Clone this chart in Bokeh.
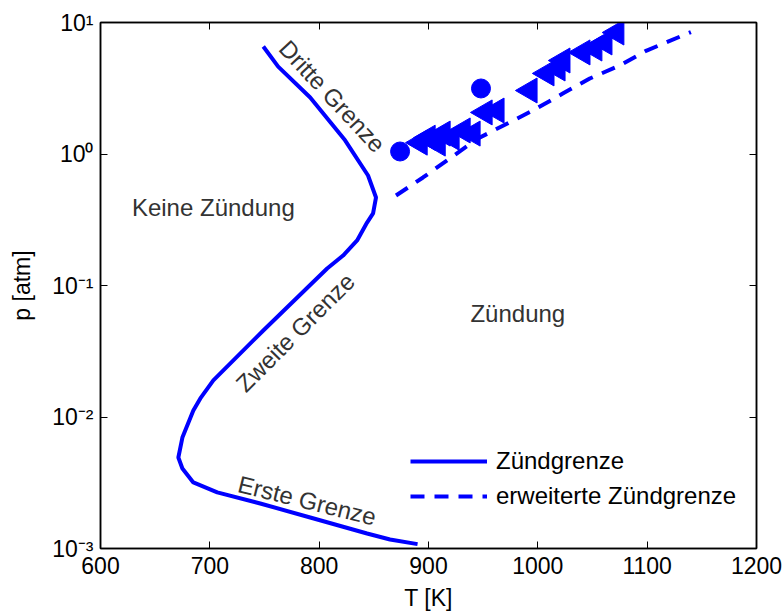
from bokeh.plotting import figure
from bokeh.models import FixedTicker, LinearAxis, LogAxis
from bokeh.core.properties import value
from bokeh.embed import file_html
from bokeh.resources import INLINE

# --- data ---
limit_T = [748.9, 762.5, 791.8, 823.7, 844.7, 852.0, 849.3, 843.8, 834.7, 821.9, 807.3,
           748.9, 703.2, 691.3, 684.9, 674.9, 671.2, 674.9, 684.9, 706.8, 746.1, 791.8,
           843.8, 864.8, 890.0]
limit_p = [6.57, 4.62, 2.69, 1.27, 0.686, 0.467, 0.353, 0.301, 0.220, 0.169, 0.1346,
           0.0455, 0.01897, 0.01384, 0.0112, 0.00698, 0.00492, 0.00406, 0.00318, 0.00267,
           0.0022, 0.00172, 0.0013, 0.00117, 0.00108]

ext_T = [870.3, 895.0, 945.2, 995.4, 1022.8, 1047.5, 1074.9, 1099.5, 1140.0]
ext_p = [0.4835, 0.663, 1.312, 2.14, 2.88, 3.75, 4.71, 6.12, 8.45]

circ_T = [874.0, 948.0]
circ_p = [1.045, 3.15]

tri_T = [892.2, 899.5, 908.7, 913.2, 921.4, 931.5, 940.6, 951.6, 962.5, 992.7,
         1008.2, 1018.3, 1022.8, 1041.1, 1052.0, 1061.2, 1072.1]
tri_p = [1.22, 1.33, 1.20, 1.43, 1.33, 1.51, 1.43, 2.07, 2.14, 3.04,
         4.10, 4.47, 5.14, 5.92, 6.34, 7.05, 8.39]

x_ticks = [600, 700, 800, 900, 1000, 1100, 1200]
y_ticks = [0.001, 0.01, 0.1, 1, 10]
y_tick_labels = ["10\u207b\u00b3", "10\u207b\u00b2", "10\u207b\u00b9", "10\u2070", "10\u00b9"]

region_labels = ["Keine Zündung", "Zündung"]
region_T = [703.2, 981.7]
region_p = [0.392, 0.0612]

limit_labels = ["Dritte Grenze", "Zweite Grenze", "Erste Grenze"]
limit_label_T = [812.0, 778.1, 789.0]
limit_label_p = [2.75, 0.0440, 0.00232]
limit_label_angle = [-0.82, 0.785, -0.243]

FONT = "Liberation Sans"
FS = "23px"
TFS = "24px"
BLUE = "#0000FF"

p = figure(width=783, height=616, x_range=(600, 1200), y_range=(1e-3, 1e1),
           y_axis_type="log", output_backend="svg", toolbar_location=None,
           min_border_left=100, min_border_right=27, min_border_top=22,
           min_border_bottom=68)
p.title.visible = False
p.grid.visible = False
p.outline_line_color = "black"
p.outline_line_width = 1.5
p.background_fill_color = "white"
p.border_fill_color = "white"

p.line(limit_T, limit_p, line_color=BLUE, line_width=4, legend_label="Zündgrenze")
p.line(ext_T, ext_p, line_color=BLUE, line_width=4, line_dash="14 10",
       legend_label="erweiterte Zündgrenze")
p.scatter(circ_T, circ_p, marker="circle", size=19, fill_color=BLUE, line_color=BLUE)
p.scatter(tri_T, tri_p, marker="triangle", size=25, angle=1.5708,
          fill_color=BLUE, line_color=BLUE)

p.text(region_T, region_p, text=region_labels, text_font=value(FONT),
       text_font_size=TFS, text_color="#333333", text_align="center",
       text_baseline="middle")
p.text(limit_label_T, limit_label_p, text=limit_labels, angle=limit_label_angle,
       text_font=value(FONT), text_font_size=TFS, text_color="#333333",
       text_align="center", text_baseline="middle")

for ax in p.xaxis + p.yaxis:
    ax.major_label_text_font = FONT
    ax.major_label_text_font_size = FS
    ax.major_label_text_color = "black"
    ax.axis_label_text_font = FONT
    ax.axis_label_text_font_size = FS
    ax.axis_label_text_font_style = "normal"
    ax.axis_label_text_color = "black"
    ax.major_tick_in = 7
    ax.major_tick_out = 0
    ax.minor_tick_line_color = None
    ax.axis_line_color = "black"
    ax.axis_line_width = 1.5
    ax.major_tick_line_color = "black"

p.xaxis.ticker = FixedTicker(ticks=x_ticks)
p.xaxis.axis_label = "T [K]"
p.xaxis.major_label_standoff = 8
p.xaxis.axis_label_standoff = 8

p.yaxis.ticker = FixedTicker(ticks=y_ticks)
p.yaxis.major_label_overrides = dict(zip(y_ticks, y_tick_labels))
p.yaxis.axis_label = "p [atm]"
p.yaxis.major_label_standoff = 7
p.yaxis.axis_label_standoff = 14

top = LinearAxis(ticker=FixedTicker(ticks=x_ticks), major_label_text_font_size="1px",
                 major_label_text_alpha=0, major_tick_in=7, major_tick_out=0,
                 minor_tick_line_color=None, axis_line_color="black",
                 axis_line_width=1.5, major_label_standoff=0)
p.add_layout(top, "above")
right = LogAxis(ticker=FixedTicker(ticks=y_ticks), major_label_text_font_size="1px",
                major_label_text_alpha=0, major_tick_in=7, major_tick_out=0,
                minor_tick_line_color=None, axis_line_color="black",
                axis_line_width=1.5, major_label_standoff=0)
p.add_layout(right, "right")

leg = p.legend[0]
leg.location = (310, 38)
leg.border_line_color = None
leg.background_fill_alpha = 0
leg.padding = 0
leg.margin = 0
leg.spacing = 7
leg.glyph_width = 77
leg.glyph_height = 24
leg.label_height = 24
leg.label_standoff = 9
leg.label_text_font = FONT
leg.label_text_font_size = TFS
leg.label_text_color = "black"

open("out.html", "w").write(file_html(p, INLINE))
